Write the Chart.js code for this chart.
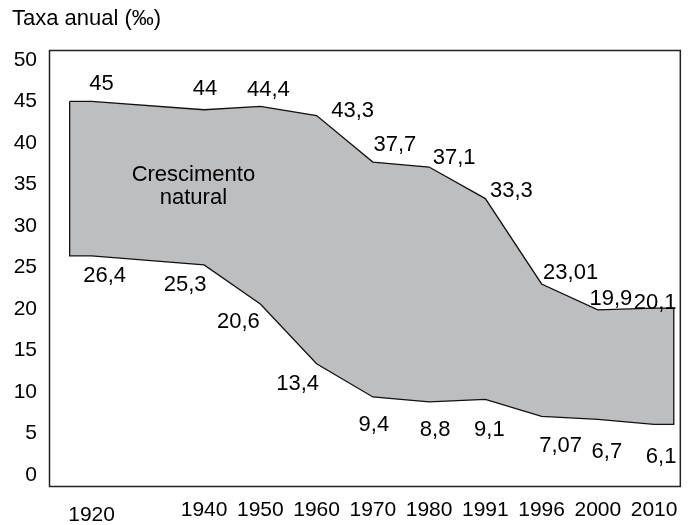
<!DOCTYPE html>
<html>
<head>
<meta charset="utf-8">
<script src="https://cdn.jsdelivr.net/npm/chart.js@4"></script>
<style>
  html, body { margin: 0; padding: 0; background: #fff; }
  #wrap { width: 688px; height: 525px; }
</style>
</head>
<body>
<div id="wrap"><canvas id="c" width="688" height="525"></canvas></div>
<script>
// ---- data ----
const years = ['1920', '1940', '1950', '1960', '1970', '1980', '1991', '1996', '2000', '2010'];
const natalidade = [45, 44, 44.4, 43.3, 37.7, 37.1, 33.3, 23.01, 19.9, 20.1];
const mortalidade = [26.4, 25.3, 20.6, 13.4, 9.4, 8.8, 9.1, 7.07, 6.7, 6.1];
const yTicks = [0, 5, 10, 15, 20, 25, 30, 35, 40, 45, 50];
const axisTitle = 'Taxa anual (‰)';
const areaLabel = ['Crescimento', 'natural'];

// ---- layout / style ----
const FONT = '"Liberation Sans", Arial, Helvetica, sans-serif';
// 1930 had no census: leave an empty slot after 1920
const slotOf = i => (i === 0 ? 0 : i + 1);
const slots = years.map((_, i) => slotOf(i));
const EDGE_L = 0.39, EDGE_R = 0.35;
const fmt = v => String(v).replace('.', ',');

const last = years.length - 1;
const outline = [];
outline.push({ x: slots[0] - EDGE_L, y: natalidade[0] });
years.forEach((_, i) => outline.push({ x: slots[i], y: natalidade[i] }));
outline.push({ x: slots[last] + EDGE_R, y: natalidade[last] });
outline.push({ x: slots[last] + EDGE_R, y: mortalidade[last] });
for (let i = last; i >= 0; i--) outline.push({ x: slots[i], y: mortalidade[i] });
outline.push({ x: slots[0] - EDGE_L, y: mortalidade[0] });
outline.push({ x: slots[0] - EDGE_L, y: natalidade[0] });

const upperOffsets = [[10,-18],[1,-21],[8,-17],[36,-5],[22,-17],[25,-9],[26,-8],[29,-11],[13,-11],[1,-5]];
const lowerOffsets = [[13,20],[-19,20],[-22,18],[-19,20],[1,28],[6,28],[4,31],[19,30],[9,33],[7,33]];

const decorPlugin = {
  id: 'decor',
  afterDatasetsDraw(chart) {
    const { ctx, chartArea: a, scales: { x, y } } = chart;
    ctx.save();
    // frame
    ctx.strokeStyle = '#222';
    ctx.lineWidth = 1.5;
    ctx.strokeRect(a.left + 0.5, a.top + 0.5, a.right - a.left - 1, a.bottom - a.top - 1);
    // value labels
    ctx.fillStyle = '#000';
    ctx.font = '22px ' + FONT;
    ctx.textAlign = 'center';
    ctx.textBaseline = 'middle';
    years.forEach((_, i) => {
      const px = x.getPixelForValue(slots[i]);
      ctx.fillText(fmt(natalidade[i]), px + upperOffsets[i][0], y.getPixelForValue(natalidade[i]) + upperOffsets[i][1]);
      ctx.fillText(fmt(mortalidade[i]), px + lowerOffsets[i][0], y.getPixelForValue(mortalidade[i]) + lowerOffsets[i][1]);
    });
    // area label
    const cx = x.getPixelForValue(1.81), cy = y.getPixelForValue(34.8);
    ctx.fillText(areaLabel[0], cx, cy - 11.5);
    ctx.fillText(areaLabel[1], cx, cy + 11.5);
    ctx.restore();
  }
};

new Chart(document.getElementById('c'), {
  type: 'line',
  data: {
    datasets: [{
      data: outline,
      borderColor: '#111',
      borderWidth: 1.3,
      backgroundColor: '#bdbec0',
      fill: 'shape',
      pointRadius: 0,
      tension: 0
    }]
  },
  options: {
    responsive: false,
    animation: false,
    devicePixelRatio: 1,
    layout: { padding: { left: 12, right: 1, top: 0, bottom: 0 } },
    plugins: {
      legend: { display: false },
      tooltip: { enabled: false },
      title: {
        display: true,
        text: axisTitle,
        align: 'start',
        color: '#000',
        font: { family: FONT, size: 22, weight: 'normal', lineHeight: 1.2 },
        padding: { top: 5.5, bottom: 18.1 }
      }
    },
    scales: {
      x: {
        type: 'linear',
        min: -0.757,
        max: 10.475,
        grid: { display: false, drawTicks: false },
        border: { display: false },
        afterBuildTicks: s => { s.ticks = slots.map(v => ({ value: v })); },
        afterFit: s => { s.height = 38; },
        ticks: {
          autoSkip: false,
          maxRotation: 0,
          padding: 10.5,
          color: '#000',
          font: c => ({ family: FONT, size: 21, lineHeight: c.index === 0 ? 1.67 : 1.2 }),
          callback: v => years[slots.indexOf(v)]
        }
      },
      y: {
        type: 'linear',
        min: -1.45,
        max: 51.2,
        grid: { display: false, drawTicks: false },
        border: { display: false },
        afterBuildTicks: s => { s.ticks = yTicks.map(v => ({ value: v })); },
        afterFit: s => { s.width = 37; },
        ticks: {
          padding: 12,
          color: '#000',
          font: { family: FONT, size: 21 },
          callback: v => String(v)
        }
      }
    }
  },
  plugins: [decorPlugin]
});
</script>
</body>
</html>
